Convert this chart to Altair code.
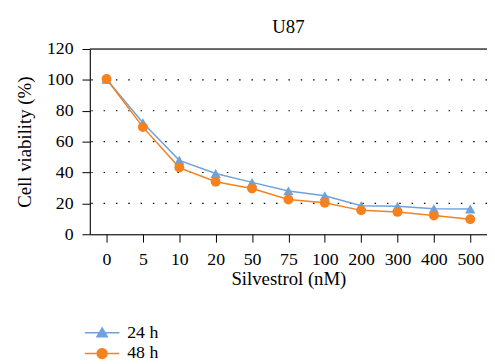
import altair as alt
import pandas as pd

doses = ["0", "5", "10", "20", "50", "75", "100", "200", "300", "400", "500"]
v24 = [100.4, 72.3, 47.9, 39.4, 33.6, 28.1, 24.9, 18.5, 18.1, 16.6, 16.4]
v48 = [100.6, 69.4, 43.2, 34.0, 29.6, 22.5, 20.4, 15.5, 14.5, 12.1, 9.8]
series = ["24 h", "48 h"]
colors = ["#6fa3d8", "#f5821f"]
grid_vals = [20, 40, 60, 80, 100]
frame_top = [120]
y_ticks = [0, 20, 40, 60, 80, 100, 120]

rows = []
for d, a, b in zip(doses, v24, v48):
    rows.append({"dose": d, "v": a, "series": series[0]})
    rows.append({"dose": d, "v": b, "series": series[1]})
df = pd.DataFrame(rows)
grid_df = pd.DataFrame({"v": grid_vals})
top_df = pd.DataFrame({"v": frame_top})

FONT = "Liberation Serif"
LBL = 18
TTL = 19

xenc = alt.X("dose:N", sort=doses, title="Silvestrol (nM)",
             scale=alt.Scale(type="point", padding=0.46),
             axis=alt.Axis(labelAngle=0, labelFontSize=LBL, titleFontSize=TTL,
                           labelFont=FONT, titleFont=FONT, labelColor="black",
                           titleColor="black", domainColor="black", tickColor="black",
                           titleFontWeight="normal", labelOverlap=False,
                           tickSize=8, labelPadding=9, titlePadding=1, grid=False))
yenc = alt.Y("v:Q", title="Cell viability (%)",
             scale=alt.Scale(domain=[0, 120], nice=False, zero=True),
             axis=alt.Axis(values=y_ticks, labelFontSize=LBL, titleFontSize=TTL,
                           labelFont=FONT, titleFont=FONT, labelColor="black",
                           titleColor="black", domainColor="black", tickColor="black",
                           titleFontWeight="normal", labelOverlap=False, labelFlush=False,
                           tickSize=8, labelPadding=9, titlePadding=12, grid=False))

grid = alt.Chart(grid_df).mark_rule(color="black", strokeDash=[1.5, 11], strokeWidth=1.2).encode(y=yenc)
top = alt.Chart(top_df).mark_rule(color="#444", strokeWidth=1.5).encode(y=yenc)

def series_layers(name, color, shape, size):
    base = alt.Chart(df).transform_filter(alt.datum.series == name)
    ln = base.mark_line(strokeWidth=1.5, color=color).encode(x=xenc, y=yenc)
    pt = base.mark_point(filled=True, opacity=1, size=size, shape=shape, color=color).encode(x=xenc, y=yenc)
    return ln, pt

l24, p24m = series_layers(series[0], colors[0], "triangle-up", 110)
l48, p48m = series_layers(series[1], colors[1], "circle", 100)

p24 = "M-3.5,0H3.5M0,-1L1.05,0.8L-1.05,0.8Z"
p48 = "M-3.5,0H3.5M1,0A1,1,0,1,1,-1,0A1,1,0,1,1,1,0Z"
leg = alt.Legend(title=None, orient="none", legendX=3.5, legendY=279, padding=0,
                 labelFont=FONT, labelFontSize=LBL, labelColor="black", labelOffset=16.5,
                 rowPadding=3, symbolOpacity=1, symbolSize=100, symbolStrokeWidth=1.5)

legend_layer = alt.Chart(df).mark_point(opacity=0, filled=True, size=100).encode(
    x=xenc, y=yenc,
    fill=alt.Fill("series:N", scale=alt.Scale(domain=series, range=colors), legend=leg),
    stroke=alt.Stroke("series:N", scale=alt.Scale(domain=series, range=colors), legend=leg),
    shape=alt.Shape("series:N", scale=alt.Scale(domain=series, range=[p24, p48]), legend=leg),
)

chart = alt.layer(grid, top, l24, l48, p24m, p48m, legend_layer).properties(
    width=403, height=188,
    title=alt.TitleParams("U87", font=FONT, fontSize=TTL, fontWeight="normal", color="black", offset=3),
    autosize=alt.AutoSizeParams(type="none"),
    padding={"left": 83, "top": 39, "right": 0, "bottom": 128},
).configure_view(stroke="#aaa", strokeWidth=1).configure_title(anchor="middle")

chart.save("out.html", embed_options={"renderer": "svg", "actions": False})
